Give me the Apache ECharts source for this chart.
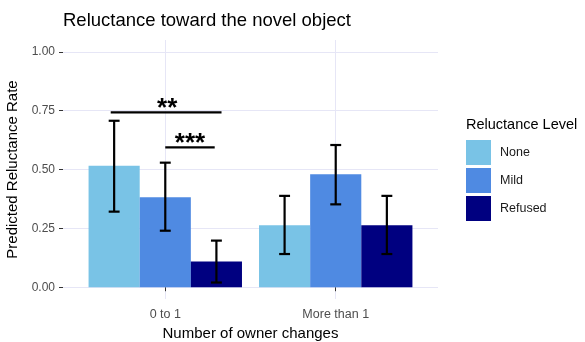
<!DOCTYPE html>
<html>
<head>
<meta charset="utf-8">
<script src="https://cdn.jsdelivr.net/npm/echarts@6/dist/echarts.min.js"></script>
<style>
  html, body { margin: 0; padding: 0; background: #fff; }
  #chart { width: 585px; height: 342px; }
</style>
</head>
<body>
<div id="chart"></div>
<script>
// Categories and levels
const groups = ['0 to 1', 'More than 1'];
const levels = ['None', 'Mild', 'Refused'];

// Predicted reluctance rate with lower / upper confidence limits per group
const rateNone = [0.516, 0.263];
const lowNone = [0.321, 0.141];
const highNone = [0.707, 0.388];

const rateMild = [0.382, 0.480];
const lowMild = [0.240, 0.352];
const highMild = [0.529, 0.604];

const rateRefused = [0.109, 0.263];
const lowRefused = [0.020, 0.141];
const highRefused = [0.198, 0.388];

// Significance brackets (x in group units, y in rate units)
const sigLabels = ['**', '***'];
const sigStart = [0.68, 1.0];
const sigEnd = [1.33, 1.29];
const sigHeight = [0.743, 0.594];

// Y-axis tick values
const yTicks = [0, 0.25, 0.5, 0.75, 1.0];

const colors = ['#79C3E6', '#4F8AE2', '#000080'];
const rates = [rateNone, rateMild, rateRefused];
const lows = [lowNone, lowMild, lowRefused];
const highs = [highNone, highMild, highRefused];

const dodge = 0.3;          // width of one bar in group units
const capHalf = 0.032;      // half width of error-bar caps
const gridColor = '#E6E6F6';
const font = 'Liberation Sans, Arial, sans-serif';

const chart = echarts.init(document.getElementById('chart'), null, { renderer: 'canvas' });

const series = [];

// Bars
levels.forEach((lvl, i) => {
  series.push({
    name: lvl,
    type: 'custom',
    itemStyle: { color: colors[i] },
    z: 2,
    data: rates[i].map((v, g) => [g + 1, v]),
    renderItem: (params, api) => {
      const x = api.value(0) + (i - 1) * dodge;
      const v = api.value(1);
      const p0 = api.coord([x - dodge / 2, v]);
      const p1 = api.coord([x + dodge / 2, 0]);
      return {
        type: 'rect',
        shape: { x: p0[0], y: p0[1], width: p1[0] - p0[0], height: p1[1] - p0[1] },
        style: { fill: colors[i] }
      };
    }
  });
});

// Error bars
levels.forEach((lvl, i) => {
  series.push({
    type: 'custom',
    z: 4,
    silent: true,
    data: rates[i].map((v, g) => [g + 1, lows[i][g], highs[i][g]]),
    renderItem: (params, api) => {
      const x = api.value(0) + (i - 1) * dodge;
      const lo = api.value(1), hi = api.value(2);
      const a = api.coord([x, lo]);
      const b = api.coord([x, hi]);
      const l = api.coord([x - capHalf, lo]);
      const r = api.coord([x + capHalf, lo]);
      const lt = api.coord([x - capHalf, hi]);
      const rt = api.coord([x + capHalf, hi]);
      const st = { stroke: '#000', lineWidth: 2.2 };
      return {
        type: 'group',
        children: [
          { type: 'line', shape: { x1: a[0], y1: a[1], x2: b[0], y2: b[1] }, style: st },
          { type: 'line', shape: { x1: l[0], y1: l[1], x2: r[0], y2: r[1] }, style: st },
          { type: 'line', shape: { x1: lt[0], y1: lt[1], x2: rt[0], y2: rt[1] }, style: st }
        ]
      };
    }
  });
});

// Significance brackets with stars
series.push({
  type: 'custom',
  z: 5,
  silent: true,
  data: sigLabels.map((s, k) => [sigStart[k], sigEnd[k], sigHeight[k]]),
  renderItem: (params, api) => {
    const k = params.dataIndex;
    const a = api.coord([api.value(0), api.value(2)]);
    const b = api.coord([api.value(1), api.value(2)]);
    return {
      type: 'group',
      children: [
        { type: 'line', shape: { x1: a[0], y1: a[1], x2: b[0], y2: b[1] },
          style: { stroke: '#000', lineWidth: 2.2 } },
        { type: 'text', x: (a[0] + b[0]) / 2 + (k === 0 ? 1 : 0), y: a[1] - 3.5,
          style: { text: sigLabels[k], fill: '#000', font: 'bold 26px "Liberation Sans"',
                   align: 'center', verticalAlign: 'middle' } }
      ]
    };
  }
});

const option = {
  animation: false,
  backgroundColor: '#fff',
  title: [
    { text: 'Reluctance toward the novel object', left: 63, top: 11, padding: 0,
      textStyle: { fontFamily: font, fontSize: 18.5, fontWeight: 'normal', color: '#000' } },
    { text: 'Reluctance Level', left: 466, top: 117, padding: 0,
      textStyle: { fontFamily: font, fontSize: 14.5, fontWeight: 'normal', color: '#000' } }
  ],
  legend: {
    orient: 'vertical', left: 466, top: 140, padding: 0,
    itemWidth: 25, itemHeight: 25, itemGap: 3,
    selectedMode: false,
    icon: 'rect',
    data: levels,
    textStyle: { fontFamily: font, fontSize: 12.5, color: '#1a1a1a', padding: [0, 0, 0, 4] }
  },
  grid: { left: 63, right: 147, top: 40, bottom: 43, containLabel: false, outerBoundsMode: 'none' },
  xAxis: {
    type: 'value', min: 0.4, max: 2.6,
    name: 'Number of owner changes', nameLocation: 'middle', nameGap: 26,
    nameTextStyle: { fontFamily: font, fontSize: 15, color: '#000' },
    axisLine: { show: false },
    axisTick: { show: true, length: 4, customValues: [1, 2], lineStyle: { color: '#333', width: 1 } },
    axisLabel: { customValues: [1, 2], margin: 9, formatter: v => groups[Math.round(v) - 1],
                 fontFamily: font, fontSize: 12.5, color: '#4D4D4D' },
    splitLine: { show: true, lineStyle: { color: gridColor, width: 1 } }
  },
  yAxis: {
    type: 'value', min: -0.05, max: 1.05,
    name: 'Predicted Reluctance Rate', nameLocation: 'middle', nameGap: 39,
    nameTextStyle: { fontFamily: font, fontSize: 15, color: '#000' },
    axisLine: { show: false },
    axisTick: { show: true, length: 4, customValues: yTicks, lineStyle: { color: '#333', width: 1 } },
    axisLabel: { customValues: yTicks, margin: 8, formatter: v => v.toFixed(2),
                 fontFamily: font, fontSize: 12, color: '#4D4D4D' },
    splitLine: { show: true, lineStyle: { color: gridColor, width: 1 } }
  },
  series: series
};

chart.setOption(option);
</script>
</body>
</html>
